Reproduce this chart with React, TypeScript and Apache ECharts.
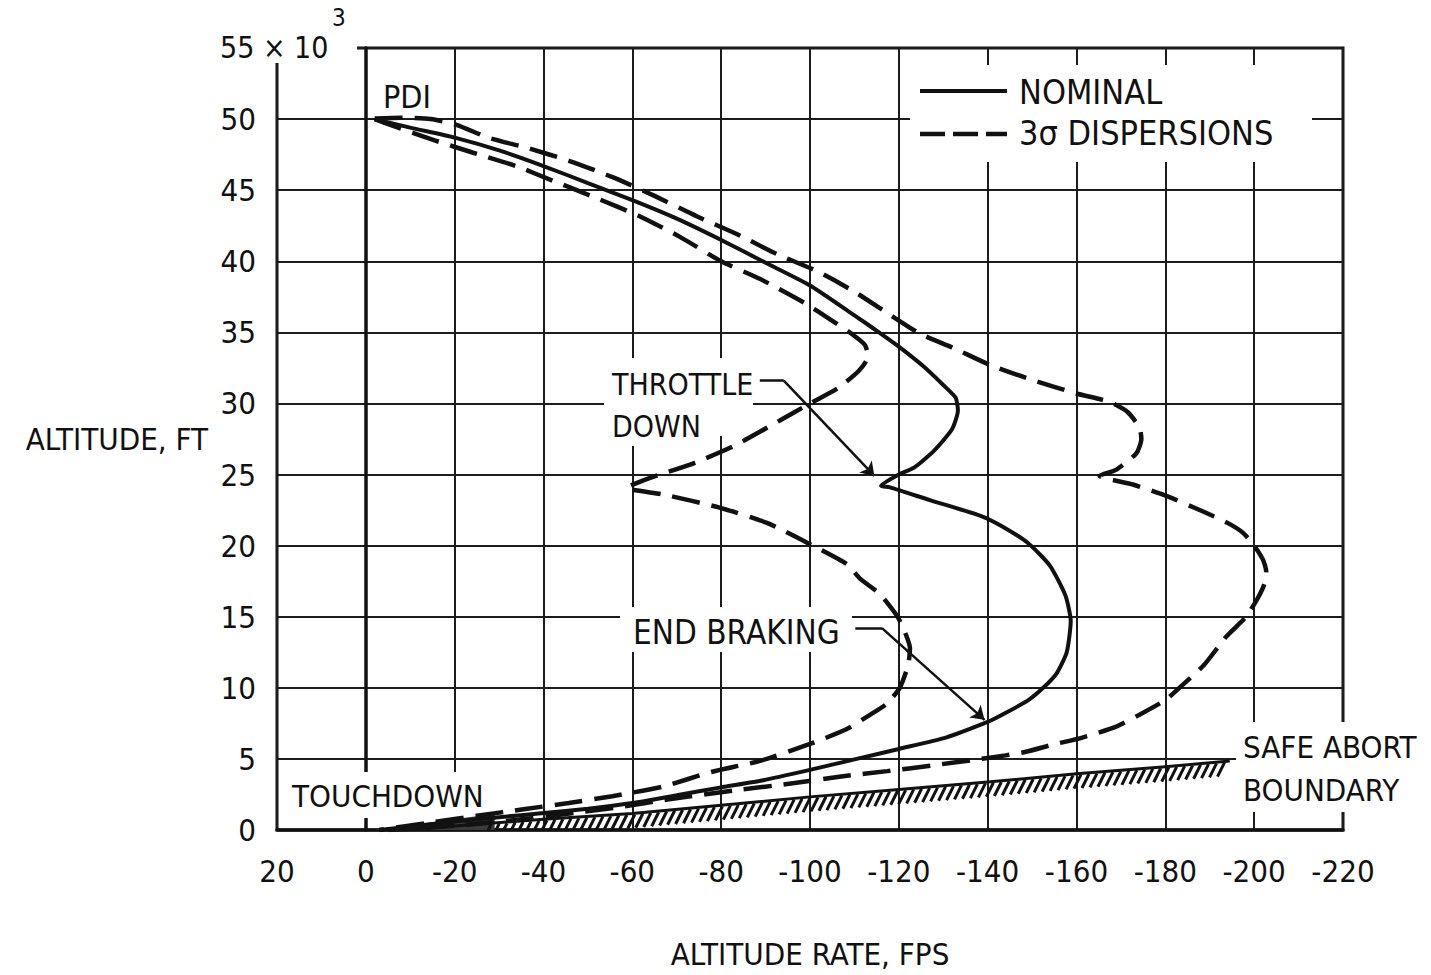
import React, { useEffect, useRef } from "react";
import * as echarts from "echarts";

const NARROW = "'Liberation Sans Narrow', 'DejaVu Sans Condensed', 'Liberation Sans', Arial, sans-serif";
const INK = "#111";

// Altitude rate (fps), altitude (x 10^3 ft)
const nominalPath: [number, number][] = [
  [-2, 50], [-10, 49.4], [-20, 48.7], [-30, 47.8], [-40, 46.7], [-50, 45.5], [-60, 44.3], [-70, 43.0],
  [-80, 41.5], [-90, 39.9], [-100, 38.3], [-110, 36.2], [-116, 34.9], [-120, 34.0], [-125.6, 32.6],
  [-130, 31.3], [-132.8, 30.4], [-133.3, 29.5], [-132, 28.2], [-128, 26.7], [-123.5, 25.5], [-120, 25.0],
  [-116, 24.2], [-118, 24.1], [-127, 23.2], [-138.4, 22.1], [-143, 21.4], [-149, 20.2], [-154, 18.6],
  [-157.5, 16.5], [-158.7, 14.7], [-157.8, 12.5], [-155.5, 11.0], [-152.5, 10.0], [-149, 9.1],
  [-142.6, 8.0], [-140, 7.6], [-130.6, 6.5], [-120, 5.7], [-110.5, 5.0], [-100, 4.23], [-89.5, 3.5],
  [-80, 3.0], [-70, 2.44], [-60, 1.9], [-50, 1.5], [-40, 1.19], [-30, 0.9], [-20, 0.6], [-10, 0.25], [-3, 0],
];

const dispersionInner: [number, number][] = [
  [-2, 50], [-6.3, 49.5], [-15.5, 48.5], [-24, 47.65], [-33.8, 46.7], [-42.6, 45.6], [-51.5, 44.5],
  [-61.4, 43.2], [-70.8, 41.7], [-80, 40.0], [-88.8, 38.75], [-98.6, 37.1], [-104.6, 35.9], [-109.8, 34.8],
  [-112.4, 34.1], [-113.1, 33.3], [-111, 32.3], [-106.4, 31.1], [-100, 30.0], [-93.2, 28.8], [-82.8, 27.0],
  [-73, 25.7], [-64, 24.77], [-58.7, 24.06], [-67, 23.6], [-79.8, 22.66], [-90.3, 21.6], [-100, 20.1],
  [-108.3, 18.7], [-111.2, 17.7], [-115.7, 16.6], [-119.5, 15.1], [-121, 14.2], [-122.5, 12.8],
  [-122.1, 11.6], [-120.2, 10], [-117.2, 8.85], [-113.5, 8.1], [-108.3, 7.1], [-100, 6.05], [-89, 4.88],
  [-78, 4.1], [-66.8, 3.05], [-55.5, 2.38], [-45.7, 1.9], [-35.9, 1.48], [-25, 1.0], [-15, 0.55], [-3, 0],
];

const dispersionOuter: [number, number][] = [
  [-2, 50.05], [-8, 50.1], [-14.6, 50.0], [-20.4, 49.6], [-27.5, 48.7], [-36.6, 47.95], [-45.9, 47.05],
  [-55.7, 45.9], [-65, 44.6], [-74.6, 43.15], [-83.6, 41.9], [-92.6, 40.5], [-101.6, 39.3], [-109.8, 37.9],
  [-117.7, 36.3], [-124.8, 34.9], [-132.3, 33.9], [-140.6, 32.7], [-149.6, 31.7], [-160, 30.7],
  [-167.5, 30.1], [-171.5, 29.4], [-174.2, 28.3], [-174.6, 27.5], [-173.5, 26.5], [-169, 25.35],
  [-165.2, 24.9], [-172.7, 24.3], [-180.2, 23.5], [-188.5, 22.4], [-194, 21.6], [-197.5, 20.9], [-200, 20.0],
  [-202, 19.0], [-202.7, 18.2], [-202.3, 17.3], [-200.8, 16.3], [-198.2, 15.0], [-193.7, 13.6],
  [-188.7, 11.6], [-183.4, 10.07], [-180, 9.14], [-174, 8.08], [-168.8, 7.25], [-161.3, 6.5],
  [-154.6, 6.0], [-148.6, 5.5], [-144, 5.25], [-138.5, 5.0], [-127.2, 4.53], [-117.4, 4.14], [-107, 3.77],
  [-96.5, 3.3], [-83.4, 2.8], [-67.9, 2.14], [-57.4, 1.62], [-46.8, 1.19], [-33.7, 0.71], [-20, 0.3], [-5, 0],
];

const safeAbortBoundary: [number, number][] = [
  [-8, 0], [-40, 0.75], [-60, 1.16], [-80, 1.74], [-100, 2.33], [-120, 2.85], [-140, 3.37],
  [-160, 3.95], [-180, 4.45], [-194.5, 4.85],
];
const hatchStart = -27;

const touchdownWedge: [number, number][] = [[-2, 0], [-29, 1.15], [-29, 0]];

const throttleLeader: [number, number][] = [[-88.7, 31.6], [-94.1, 31.6], [-114.5, 24.9]];
const brakingLeader: [number, number][] = [[-110.2, 14.2], [-116.2, 14.2], [-139.3, 7.75]];

const seriesNames = ["NOMINAL", "3σ DISPERSIONS"];

function whiteBox(x: number, y: number, width: number, height: number) {
  return { type: "rect", shape: { x, y, width, height }, style: { fill: "#fff" }, z: 1, silent: true };
}
function label(text: string, x: number, y: number, fontSize = 32) {
  return {
    type: "text",
    x,
    y,
    z: 10,
    silent: true,
    style: { text, fontSize, fontFamily: NARROW, fill: INK, align: "left", verticalAlign: "middle" },
  };
}

export default function App() {
  const ref = useRef<HTMLDivElement>(null);

  useEffect(() => {
    const chart = echarts.init(ref.current!, null, { renderer: "svg" });

    const dashed = [28, 12];

    const option: any = {
      animation: false,
      backgroundColor: "#fff",
      grid: {
        left: 277,
        right: 88,
        top: 48,
        bottom: 145,
        show: true,
        borderColor: INK,
        borderWidth: 3,
      },
      xAxis: {
        type: "value",
        min: -220,
        max: 20,
        interval: 20,
        inverse: true,
        name: "ALTITUDE RATE, FPS",
        nameLocation: "middle",
        nameGap: 108,
        nameTextStyle: { fontSize: 31, fontFamily: NARROW, color: INK },
        axisLine: { show: true, lineStyle: { color: INK, width: 3.5 } },
        axisTick: { show: false },
        axisLabel: { fontSize: 31, fontFamily: NARROW, color: INK, margin: 25, formatter: (v: number) => String(v) },
        splitLine: { show: true, lineStyle: { color: "#1c1c1c", width: 2 } },
      },
      yAxis: {
        type: "value",
        min: 0,
        max: 55,
        interval: 5,
        name: "ALTITUDE, FT",
        nameLocation: "middle",
        nameRotate: 0,
        nameGap: 69,
        nameTextStyle: { fontSize: 31, fontFamily: NARROW, color: INK, align: "right" },
        axisLine: { show: true, lineStyle: { color: INK, width: 3.5 } },
        axisTick: { show: false },
        axisLabel: {
          fontSize: 31,
          fontFamily: NARROW,
          color: INK,
          margin: 21,
          formatter: (v: number) => (v === 55 ? "" : String(v)),
        },
        splitLine: { show: true, lineStyle: { color: "#1c1c1c", width: 2 } },
      },
      series: [
        {
          name: seriesNames[0],
          type: "line",
          data: nominalPath,
          symbol: "none",
          smooth: 0.2,
          z: 3,
          lineStyle: { color: INK, width: 4 },
        },
        {
          name: seriesNames[1],
          type: "line",
          data: dispersionInner,
          symbol: "none",
          smooth: 0.2,
          z: 3,
          lineStyle: { color: INK, width: 4.5, type: dashed, cap: "butt" },
        },
        {
          name: seriesNames[1],
          type: "line",
          data: dispersionOuter,
          symbol: "none",
          smooth: 0.2,
          z: 3,
          lineStyle: { color: INK, width: 4.5, type: dashed, cap: "butt" },
        },
        {
          name: "SAFE ABORT BOUNDARY",
          type: "custom",
          coordinateSystem: "cartesian2d",
          data: safeAbortBoundary,
          clip: true,
          z: 3,
          renderItem: (params: any, api: any) => {
            if (params.dataIndex !== 0) return null;
            const pts = safeAbortBoundary.map((p) => api.coord(p));
            const children: any[] = [];
            children.push({
              type: "polygon",
              shape: { points: touchdownWedge.map((p) => api.coord(p)) },
              style: { fill: "#3a3a3a" },
            });
            children.push({
              type: "polyline",
              shape: { points: pts },
              style: { stroke: INK, lineWidth: 3, fill: null },
            });
            const step = 8;
            let carry = 0;
            for (let i = 0; i < pts.length - 1; i++) {
              const [x0, y0] = pts[i];
              const [x1, y1] = pts[i + 1];
              const len = Math.hypot(x1 - x0, y1 - y0);
              let d = carry;
              while (d <= len) {
                const t = d / len;
                const dataX =
                  safeAbortBoundary[i][0] + t * (safeAbortBoundary[i + 1][0] - safeAbortBoundary[i][0]);
                if (dataX <= hatchStart) {
                  const qx = x0 + t * (x1 - x0);
                  const qy = y0 + t * (y1 - y0);
                  children.push({
                    type: "line",
                    shape: { x1: qx + 2, y1: qy + 1, x2: qx - 5, y2: qy + 15 },
                    style: { stroke: INK, lineWidth: 3 },
                  });
                }
                d += step;
              }
              carry = d - len;
            }
            return { type: "group", children };
          },
        },
        {
          name: "leader stubs",
          type: "lines",
          coordinateSystem: "cartesian2d",
          z: 4,
          symbol: "none",
          lineStyle: { color: INK, width: 2.5, opacity: 1 },
          data: [
            { coords: [throttleLeader[0], throttleLeader[1]] },
            { coords: [brakingLeader[0], brakingLeader[1]] },
          ],
        },
        {
          name: "leader arrows",
          type: "lines",
          coordinateSystem: "cartesian2d",
          z: 4,
          symbol: ["none", "arrow"],
          symbolSize: 13,
          lineStyle: { color: INK, width: 2.5, opacity: 1 },
          data: [
            { coords: [throttleLeader[1], throttleLeader[2]] },
            { coords: [brakingLeader[1], brakingLeader[2]] },
          ],
        },
      ],
      graphic: [
        // cleared areas behind labels
        whiteBox(262, 36, 95, 27),
        whiteBox(910, 65, 402, 97),
        whiteBox(604, 358, 149, 78),
        whiteBox(604, 436, 100, 10),
        whiteBox(620, 607, 232, 45),
        whiteBox(285, 772, 205, 46),
        whiteBox(1236, 722, 195, 90),
        // axis exponent
        label("55 × 10", 220, 47, 30),
        label("3", 332, 18, 24),
        // legend
        {
          type: "line",
          z: 10,
          shape: { x1: 920, y1: 91, x2: 1007, y2: 91 },
          style: { stroke: INK, lineWidth: 4 },
        },
        {
          type: "line",
          z: 10,
          shape: { x1: 920, y1: 134, x2: 1007, y2: 134 },
          style: { stroke: INK, lineWidth: 4.5, lineDash: [25, 8] },
        },
        label(seriesNames[0], 1019, 92, 34),
        label(seriesNames[1], 1019, 133, 34),
        // annotations
        label("PDI", 383, 97, 32),
        label("THROTTLE", 612, 384, 30),
        label("DOWN", 612, 426, 30),
        label("END BRAKING", 633, 632, 33),
        label("TOUCHDOWN", 292, 796, 31),
        label("SAFE ABORT", 1243, 747, 31),
        label("BOUNDARY", 1243, 790, 31),
      ],
    };

    chart.setOption(option);
    return () => chart.dispose();
  }, []);

  return (
    <div
      ref={ref}
      style={{ position: "absolute", left: 0, top: 0, width: 1431, height: 975, background: "#fff" }}
    />
  );
}
